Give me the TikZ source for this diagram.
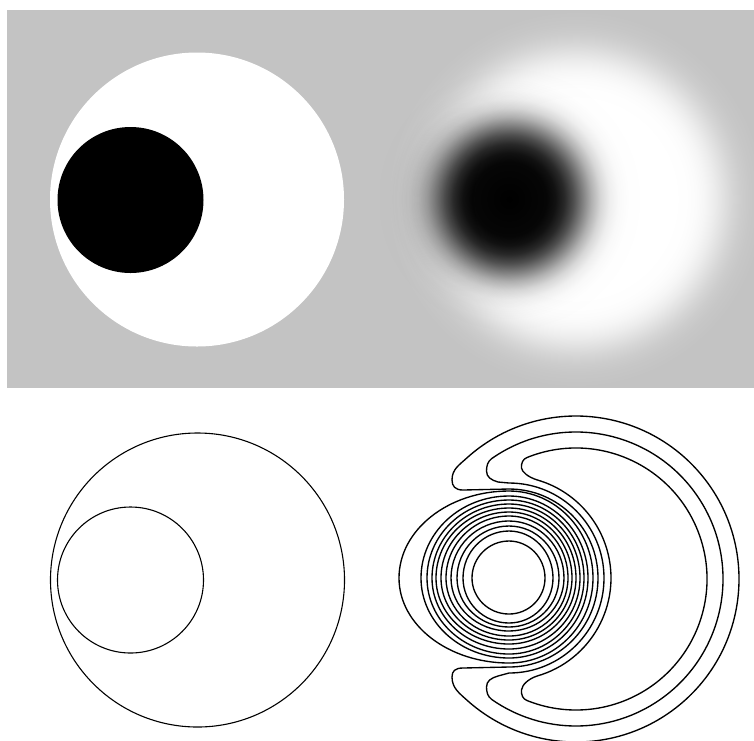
\documentclass[tikz,border=0pt]{standalone}
\usepackage{tikz}
\usetikzlibrary{fadings}

\definecolor{bggray}{RGB}{195,195,195}

% blurred white disk (gaussian edge)
\pgfdeclareradialshading{blurdisk}{\pgfpointorigin}{%
  color(0bp)=(white); color(13.30bp)=(white!99.5!bggray);
  color(14.76bp)=(white!97.7!bggray); color(15.96bp)=(white!93.3!bggray);
  color(17.15bp)=(white!84.1!bggray); color(18.35bp)=(white!69.1!bggray);
  color(19.55bp)=(white!50!bggray); color(20.74bp)=(white!30.9!bggray);
  color(21.94bp)=(white!15.9!bggray); color(23.14bp)=(white!6.7!bggray);
  color(24.34bp)=(white!2.3!bggray);
  color(25bp)=(bggray); color(50bp)=(bggray)}

% blurred black disk, used as a fading (white = opaque)
\pgfdeclareradialshading{blurblobmask}{\pgfpointorigin}{%
  color(0bp)=(white); color(6.61bp)=(black!2.3);
  color(8.21bp)=(black!6.7); color(9.82bp)=(black!15.9);
  color(11.43bp)=(black!30.9); color(13.04bp)=(black!50);
  color(14.64bp)=(black!69.1); color(16.25bp)=(black!84.1);
  color(17.86bp)=(black!93.3); color(19.46bp)=(black!97.7);
  color(21.43bp)=(black!99.6); color(25bp)=(black);
  color(50bp)=(black)}
\pgfdeclarefading{blurblob}{\pgfuseshading{blurblobmask}}

\begin{document}
\begin{tikzpicture}[x=1pt, y=-1pt,
    level line/.style={draw=black, line width=1.35pt},
    edge line/.style={draw=black, line width=1.1pt}]
    \useasboundingbox (0,0) rectangle (754,740);

    % Top row: original and blurred image
    \fill[bggray] (7,10) rectangle (754,388);
    \fill[white] (197,199.5) circle[radius=147];
    \fill[black] (130.5,200) circle[radius=73];

    \begin{scope}
        \clip (380,10) rectangle (754,388);
        \shade[shading=blurdisk] (576,199) circle[radius=188];
        \fill[black, path fading=blurblob] (509,199) circle[radius=140];
    \end{scope}

    % Bottom row: edges of the original
    \draw[edge line] (197.5,580) circle[radius=147];
    \draw[edge line] (130.5,580) circle[radius=73];

    % Bottom row: level lines of the blurred image
    % rings round the dark blob (left/right/top/bottom half axes)
    \foreach \l/\r/\t/\b in {37/36/37/36, 46/44/47/45, 52/50/52/49, 58/55/57/53,
                             63/59/62/58, 68/63/66/62, 73/67/70/66, 77/71/74/71,
                             82/75/78/76, 88/79/82/80, 110/84/87/85}
        \draw[level line] (509+\r,578)
            arc[start angle=0, end angle=90, x radius=\r, y radius=\b]
            arc[start angle=90, end angle=180, x radius=\l, y radius=\b]
            arc[start angle=180, end angle=270, x radius=\l, y radius=\t]
            arc[start angle=270, end angle=360, x radius=\r, y radius=\t];

    % three crescents round the bright ring
    \draw[level line] (576,579) ++(-132:163) arc[start angle=-132, end angle=132, radius=163]
        .. controls (459.5,693.4) and (452,688) .. (452,677)
        .. controls (452,671) and (455,668) .. (463,668)
        -- (509,667) arc[start angle=90, end angle=-90, radius=89]
        -- (463,490)
        .. controls (455,490) and (452,486) .. (452,480)
        .. controls (452,469) and (459.5,464.8) .. cycle;
    \draw[level line] (576,579) ++(-125:147) arc[start angle=-125, end angle=125, radius=147]
        .. controls (487.6,696.5) and (486.5,692) .. (486.5,687)
        .. controls (486.5,681) and (491,678) .. (498,676)
        -- (509,673) arc[start angle=90, end angle=-90, radius=95]
        -- (498,482)
        .. controls (491,480) and (486.5,477) .. (486.5,471)
        .. controls (486.5,466) and (487.6,461.5) .. cycle;
    \draw[level line] (576,579) ++(-112:131) arc[start angle=-112, end angle=112, radius=131]
        .. controls (523,699) and (521,695) .. (521.5,690)
        .. controls (522,685) and (528,679) .. (537.1,676)
        arc[start angle=74, end angle=-74, radius=102]
        .. controls (528,477) and (522,472) .. (521.5,468)
        .. controls (521,463) and (523,459) .. cycle;
\end{tikzpicture}
\end{document}
